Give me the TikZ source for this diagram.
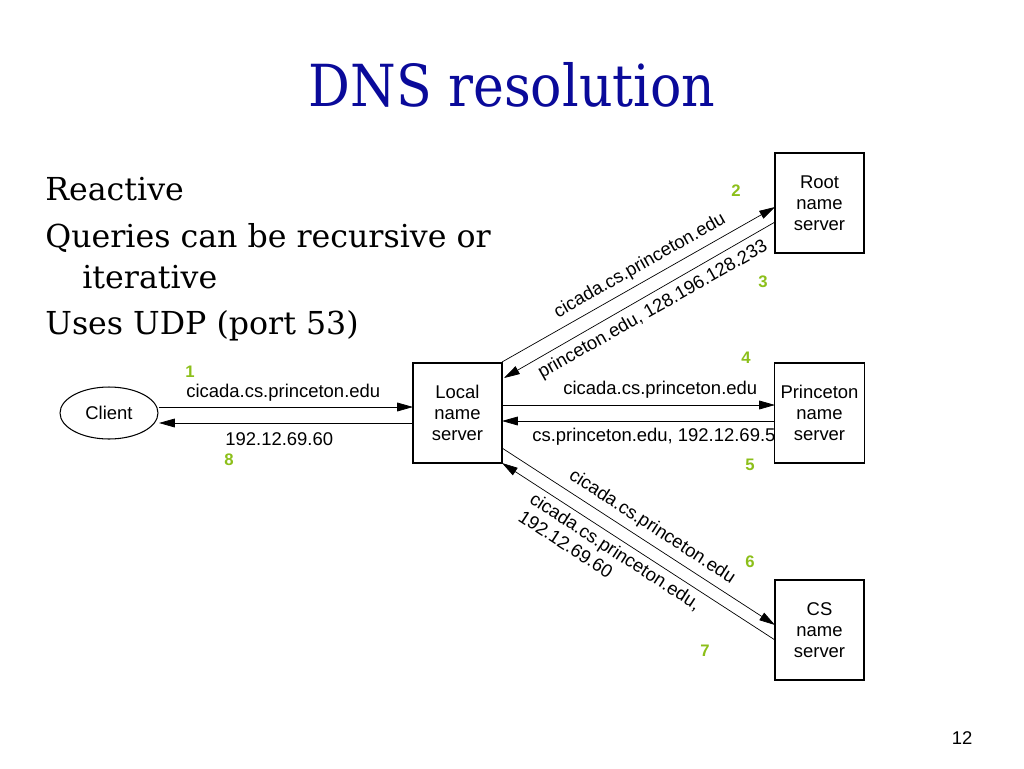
\documentclass[tikz,border=0pt]{standalone}
\usepackage{fontspec}
\setmainfont{DejaVu Serif}
\newfontfamily\ttlfont{DejaVu Serif Condensed}
\newfontfamily\lab{Liberation Sans}
\usetikzlibrary{arrows.meta,shapes.geometric}
\definecolor{ttl}{HTML}{0A0A9A}
\definecolor{num}{HTML}{8CBF1A}
\begin{document}
\begin{tikzpicture}[x=0.02cm,y=-0.02cm,
 box/.style={draw,semithick,minimum width=1.78cm,minimum height=2cm,align=center,font=\lab\fontsize{10.5}{12}\selectfont},
 arr/.style={-{Triangle[length=9pt,width=5pt]},thin},
 lbl/.style={font=\lab\fontsize{10.5}{12}\selectfont,inner sep=0pt},
 nm/.style={font=\lab\bfseries\fontsize{9.5}{10}\selectfont,text=num,inner sep=0pt},
 bul/.style={font=\fontsize{18}{22}\selectfont,anchor=west,inner sep=0pt}]
\useasboundingbox (0,0) rectangle (1024,768);
\node[font=\ttlfont\fontsize{33}{36}\selectfont,text=ttl] (title) at (512,85) {DNS resolution};
\node[bul] (b1) at (45,189) {Reactive};
\node[bul] (b2) at (45,238) {Queries can be recursive or};
\node[bul] (b3) at (82,277) {iterative};
\node[bul] (b4) at (45,326) {Uses UDP (port 53)};
\node[box] (root) at (819.5,203) {Root\\name\\server};
\node[box] (pri) at (819.5,413) {Princeton\\name\\server};
\node[box] (cs) at (819.5,630) {CS\\name\\server};
\node[box] (loc) at (457.5,413) {Local\\name\\server};
\node[draw,semithick,ellipse,minimum width=1.96cm,minimum height=1.04cm,font=\lab\fontsize{10.5}{12}\selectfont] (cl) at (109,413) {Client};
% client-local
\coordinate (c1) at (159,407); \coordinate (l1) at (413,407);
\coordinate (c2) at (159,423); \coordinate (l2) at (413,423);
\draw[arr] (c1) -- (l1);
\draw[arr] (l2) -- (c2);
% local-princeton
\coordinate (l3) at (502,405); \coordinate (p1) at (775,405);
\coordinate (l4) at (502,421); \coordinate (p2) at (775,421);
\draw[arr] (l3) -- (p1);
\draw[arr] (p2) -- (l4);
% local-root
\coordinate (l5) at (502,362); \coordinate (r1) at (775,207);
\coordinate (l6) at (504,378); \coordinate (r2) at (775,222);
\draw[arr] (l5) -- (r1);
\draw[arr] (r2) -- (l6);
% local-cs
\coordinate (l7) at (502,448); \coordinate (s1) at (775,625);
\coordinate (l8) at (502,463); \coordinate (s2) at (775,640);
\draw[arr] (l7) -- (s1);
\draw[arr] (s2) -- (l8);
% labels
\node[lbl,anchor=west] (t1) at (186,393) {cicada.cs.princeton.edu};
\node[lbl,anchor=west] (t2) at (225,439) {192.12.69.60};
\node[lbl,anchor=west] (t3) at (563,390) {cicada.cs.princeton.edu};
\node[lbl,anchor=west] (t4) at (532,437) {cs.princeton.edu, 192.12.69.5};
\node[lbl,rotate=29.6] (t5) at (640,266) {cicada.cs.princeton.edu};
\node[lbl,rotate=29.6] (t6) at (653,310) {princeton.edu, 128.196.128.233};
\node[lbl,rotate=-33] (t7) at (652,527) {cicada.cs.princeton.edu};
\node[lbl,rotate=-33,align=left] (t8) at (610,560) {cicada.cs.princeton.edu,\\192.12.69.60};
\node[nm] (n1) at (190,372) {1};
\node[nm] (n2) at (736,191) {2};
\node[nm] (n3) at (763,282) {3};
\node[nm] (n4) at (746,358) {4};
\node[nm] (n5) at (750,465) {5};
\node[nm] (n6) at (750,562) {6};
\node[nm] (n7) at (705,651) {7};
\node[nm] (n8) at (229,460) {8};
\node[font=\lab\fontsize{10.5}{12}\selectfont] (pg) at (962,738) {12};
\end{tikzpicture}
\end{document}
